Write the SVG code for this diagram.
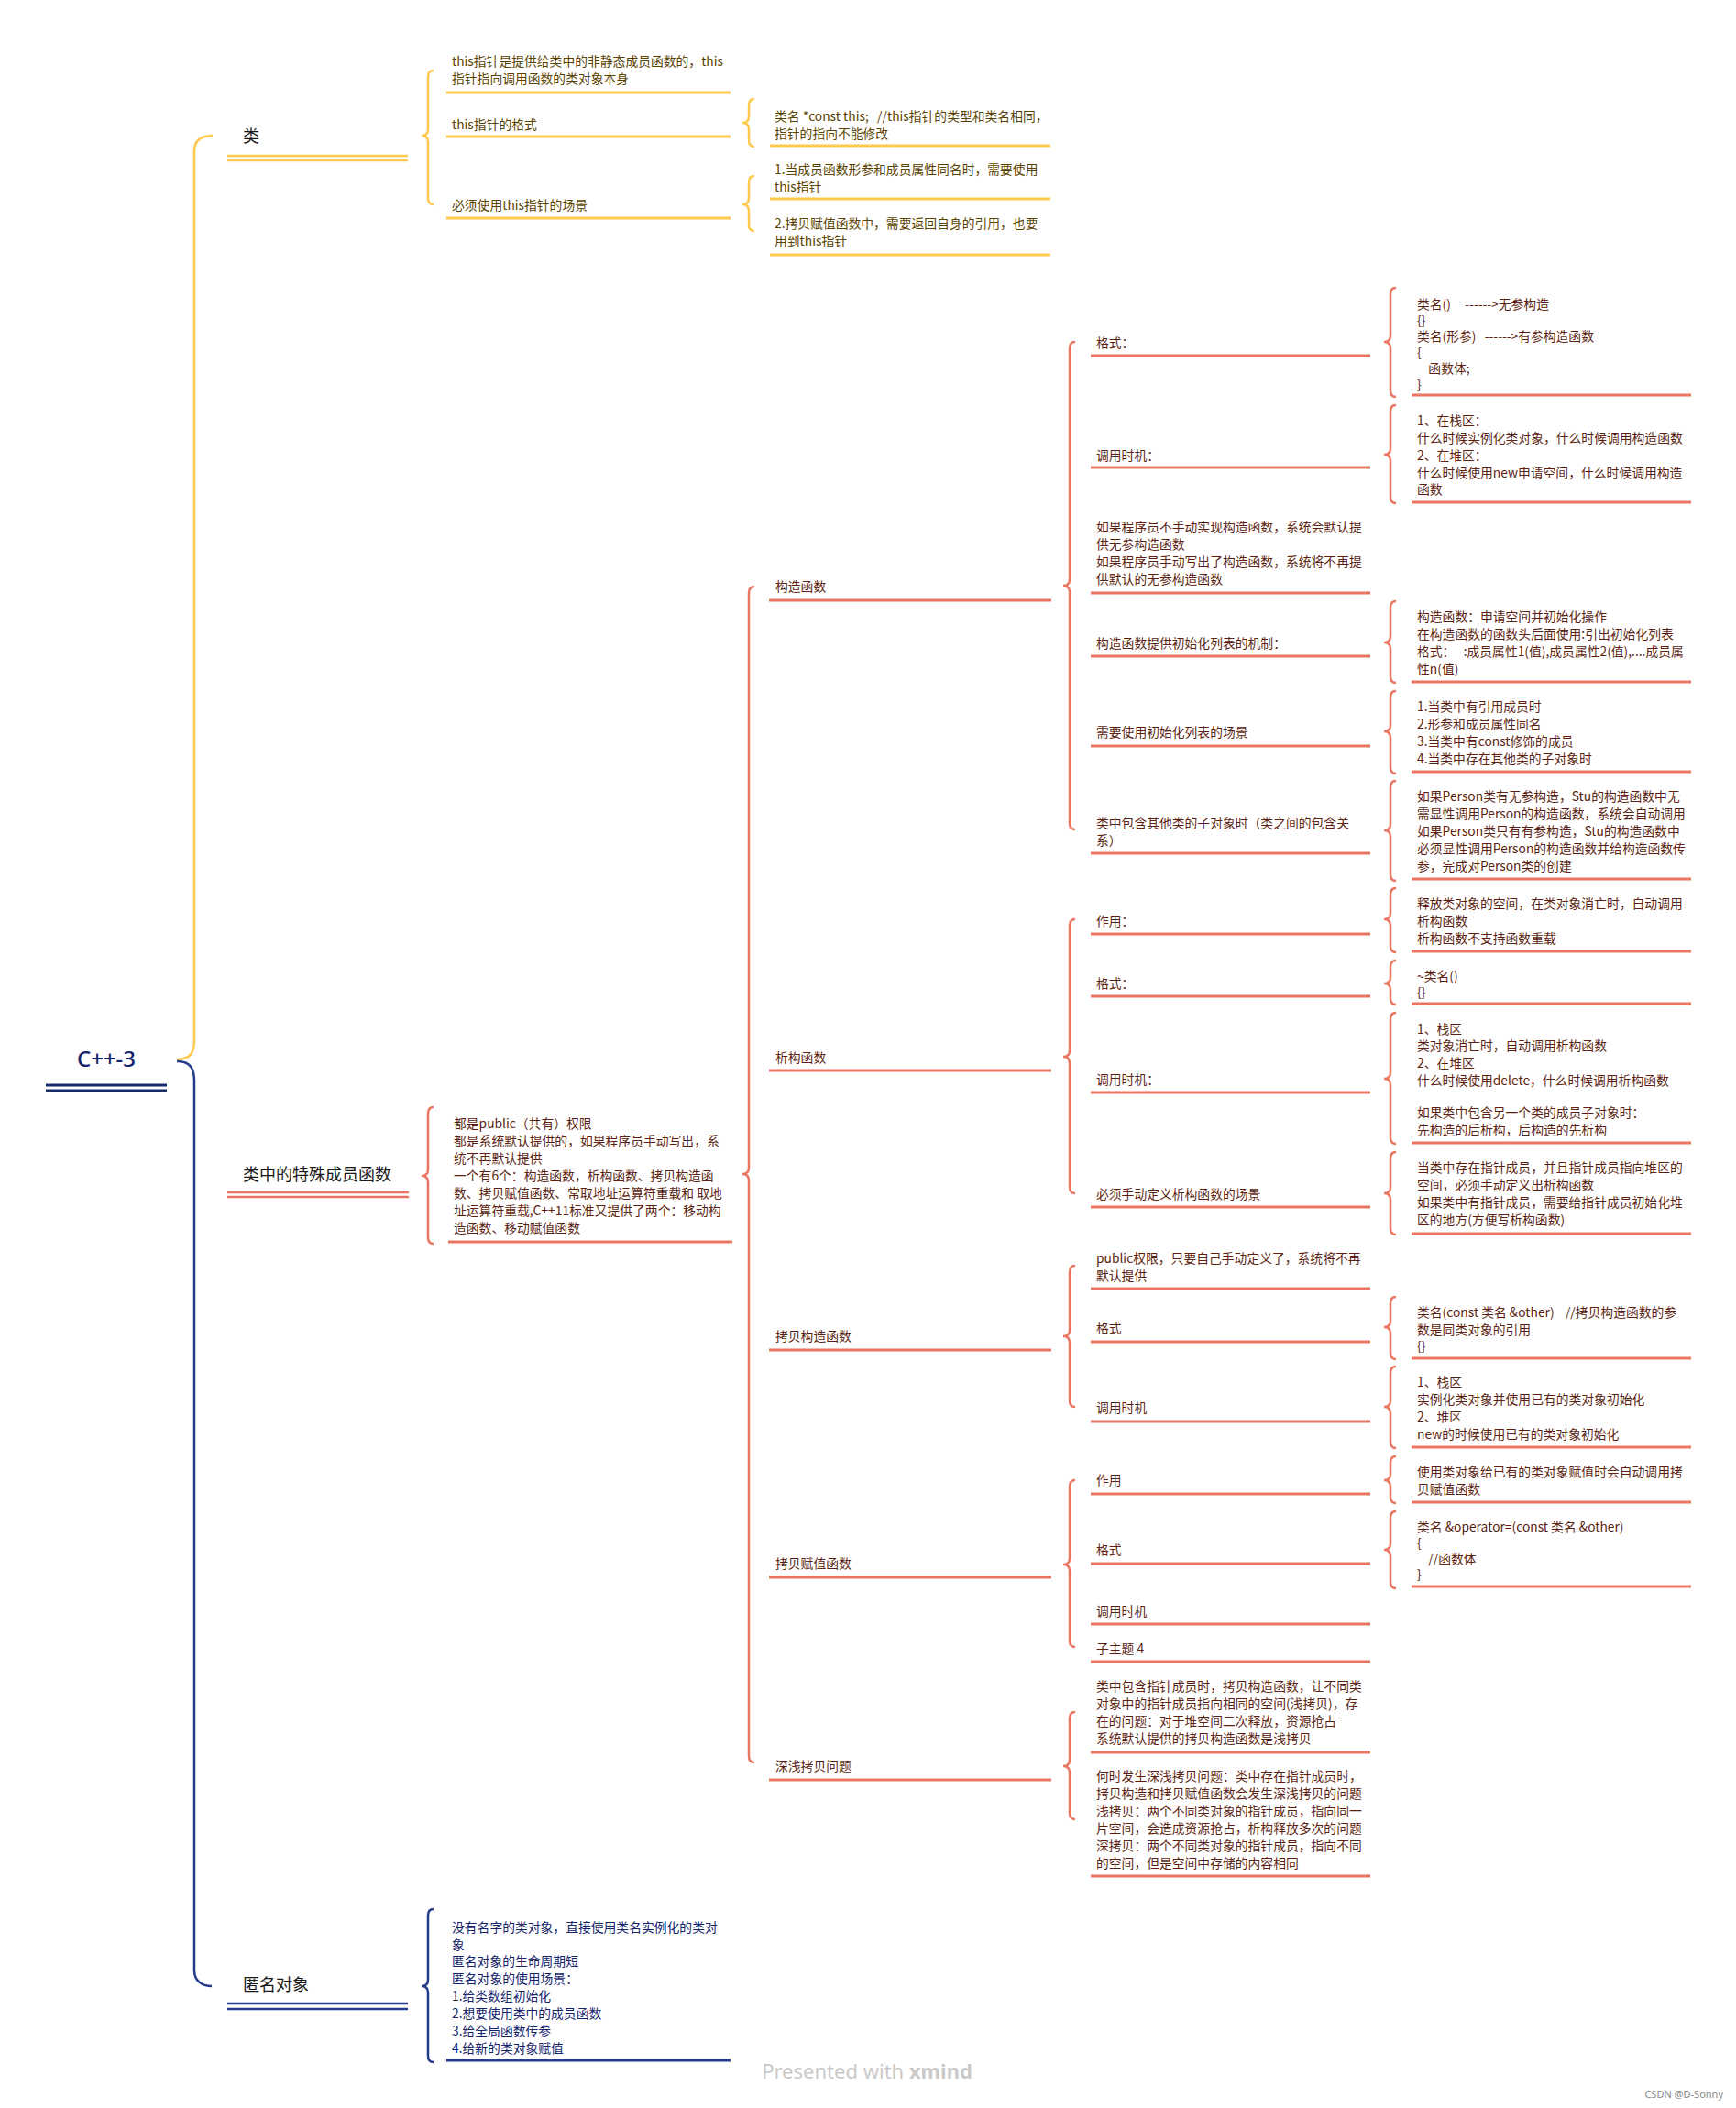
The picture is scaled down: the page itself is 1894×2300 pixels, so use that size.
<svg xmlns="http://www.w3.org/2000/svg" width="1894" height="2300" viewBox="0 0 1894 2300">
<style>
text{font-family:"Noto Sans CJK SC","Noto Sans",sans-serif;dominant-baseline:central}
.t{font-size:13.8px}
.ty{fill:#5a4300}
.tr{fill:#5c1f12}
.tb{fill:#14246b}
.l1{font-size:18px;fill:#1a1a1a}
.root{font-family:"Noto Sans",sans-serif;font-size:24px;fill:#14246b;font-weight:500}
.y{stroke:#ffc94d;fill:none;stroke-width:2.5}
.r{stroke:#ea7560;fill:none;stroke-width:2.5}
.b{stroke:#253b8c;fill:none;stroke-width:2.5}
.ul{stroke-width:3}
</style>
<rect width="1894" height="2300" fill="#ffffff"/>

<g id="connectors">
  <path class="y" d="M193,1156 C208,1156 212,1148 212,1135 V165 C212,153 220,148 232,148"/>
  <path class="b" d="M193,1158 C208,1158 212,1166 212,1180 V2150 C212,2161 220,2167 231,2167"/>
  <path class="y" d="M473,77 Q467,77 467,84 V141 Q467,148 460,148 Q467,148 467,155 V216 Q467,223 473,223"/>
  <path class="y" d="M823,108 Q817,108 817,115 V127 Q817,134 810,134 Q817,134 817,141 V153 Q817,160 823,160"/>
  <path class="y" d="M823,192 Q817,192 817,199 V216 Q817,223 810,223 Q817,223 817,230 V245 Q817,252 823,252"/>
  <path class="r" d="M473,1208 Q467,1208 467,1215 V1276 Q467,1283 460,1283 Q467,1283 467,1290 V1350 Q467,1357 473,1357"/>
  <path class="r" d="M823,640 Q817,640 817,647 V1274 Q817,1281 810,1281 Q817,1281 817,1288 V1916 Q817,1923 823,1923"/>
  <path class="r" d="M1173,373 Q1167,373 1167,380 V632 Q1167,639 1160,639 Q1167,639 1167,646 V898 Q1167,905 1173,905"/>
  <path class="r" d="M1523,314 Q1517,314 1517,321 V366 Q1517,373 1510,373 Q1517,373 1517,380 V426 Q1517,433 1523,433"/>
  <path class="r" d="M1523,442 Q1517,442 1517,449 V489 Q1517,496 1510,496 Q1517,496 1517,503 V542 Q1517,549 1523,549"/>
  <path class="r" d="M1523,656 Q1517,656 1517,663 V694 Q1517,701 1510,701 Q1517,701 1517,708 V738 Q1517,745 1523,745"/>
  <path class="r" d="M1523,754 Q1517,754 1517,761 V791 Q1517,798 1510,798 Q1517,798 1517,805 V837 Q1517,844 1523,844"/>
  <path class="r" d="M1523,852 Q1517,852 1517,859 V899 Q1517,906 1510,906 Q1517,906 1517,913 V954 Q1517,961 1523,961"/>
  <path class="r" d="M1173,1003 Q1167,1003 1167,1010 V1146 Q1167,1153 1160,1153 Q1167,1153 1167,1160 V1295 Q1167,1302 1173,1302"/>
  <path class="r" d="M1523,969 Q1517,969 1517,976 V996 Q1517,1003 1510,1003 Q1517,1003 1517,1010 V1032 Q1517,1039 1523,1039"/>
  <path class="r" d="M1523,1048 Q1517,1048 1517,1055 V1066 Q1517,1073 1510,1073 Q1517,1073 1517,1080 V1089 Q1517,1096 1523,1096"/>
  <path class="r" d="M1523,1105 Q1517,1105 1517,1112 V1170 Q1517,1177 1510,1177 Q1517,1177 1517,1184 V1241 Q1517,1248 1523,1248"/>
  <path class="r" d="M1523,1257 Q1517,1257 1517,1264 V1295 Q1517,1302 1510,1302 Q1517,1302 1517,1309 V1340 Q1517,1347 1523,1347"/>
  <path class="r" d="M1173,1381 Q1167,1381 1167,1388 V1451 Q1167,1458 1160,1458 Q1167,1458 1167,1465 V1528 Q1167,1535 1173,1535"/>
  <path class="r" d="M1523,1415 Q1517,1415 1517,1422 V1441 Q1517,1448 1510,1448 Q1517,1448 1517,1455 V1476 Q1517,1483 1523,1483"/>
  <path class="r" d="M1523,1491 Q1517,1491 1517,1498 V1528 Q1517,1535 1510,1535 Q1517,1535 1517,1542 V1573 Q1517,1580 1523,1580"/>
  <path class="r" d="M1173,1615 Q1167,1615 1167,1622 V1700 Q1167,1707 1160,1707 Q1167,1707 1167,1714 V1790 Q1167,1797 1173,1797"/>
  <path class="r" d="M1523,1589 Q1517,1589 1517,1596 V1608 Q1517,1615 1510,1615 Q1517,1615 1517,1622 V1633 Q1517,1640 1523,1640"/>
  <path class="r" d="M1523,1649 Q1517,1649 1517,1656 V1684 Q1517,1691 1510,1691 Q1517,1691 1517,1698 V1726 Q1517,1733 1523,1733"/>
  <path class="r" d="M1173,1868 Q1167,1868 1167,1875 V1920 Q1167,1927 1160,1927 Q1167,1927 1167,1934 V1978 Q1167,1985 1173,1985"/>
  <path class="b" d="M473,2083 Q467,2083 467,2090 V2160 Q467,2167 460,2167 Q467,2167 467,2174 V2243 Q467,2250 473,2250"/>
</g>

<g id="root">
  <text class="root" x="116" y="1154" text-anchor="middle">C++-3</text>
  <path d="M50,1184 H182 M50,1190 H182" stroke="#1b2a6e" stroke-width="3" fill="none"/>
</g>

<!-- 类 subtree -->
<g id="n-lei">
  <text class="l1" x="265" y="147">类</text>
  <path class="y" d="M248,170 H445 M248,175 H445"/>
</g>
<g id="n-this-def">
  <text class="t ty" x="493"><tspan x="493" y="66">this指针是提供给类中的非静态成员函数的，this</tspan><tspan x="493" y="85">指针指向调用函数的类对象本身</tspan></text>
  <path class="y ul" d="M487,101 H797"/>
</g>
<g id="n-this-fmt">
  <text class="t ty" x="493" y="135">this指针的格式</text>
  <path class="y ul" d="M487,149 H797"/>
</g>
<g id="n-this-scene">
  <text class="t ty" x="493" y="223">必须使用this指针的场景</text>
  <path class="y ul" d="M487,238 H797"/>
</g>
<g id="n-this-fmt-1">
  <text class="t ty" xml:space="preserve"><tspan x="845" y="126">类名 *const this;   //this指针的类型和类名相同，</tspan><tspan x="845" y="145">指针的指向不能修改</tspan></text>
  <path class="y ul" d="M840,159 H1146"/>
</g>
<g id="n-this-scene-1">
  <text class="t ty"><tspan x="845" y="184">1.当成员函数形参和成员属性同名时，需要使用</tspan><tspan x="845" y="203">this指针</tspan></text>
  <path class="y ul" d="M840,217 H1146"/>
</g>
<g id="n-this-scene-2">
  <text class="t ty"><tspan x="845" y="243">2.拷贝赋值函数中，需要返回自身的引用，也要</tspan><tspan x="845" y="262">用到this指针</tspan></text>
  <path class="y ul" d="M840,278 H1146"/>
</g>

<!-- 类中的特殊成员函数 subtree -->
<g id="n-special">
  <text class="l1" x="265" y="1280">类中的特殊成员函数</text>
  <path class="r" d="M248,1301 H446 M248,1306 H446" stroke="#f08a76"/>
</g>
<g id="n-special-note">
  <text class="t tr"><tspan x="495" y="1225">都是public（共有）权限</tspan><tspan x="495" y="1244">都是系统默认提供的，如果程序员手动写出，系</tspan><tspan x="495" y="1263">统不再默认提供</tspan><tspan x="495" y="1282">一个有6个：构造函数，析构函数、拷贝构造函</tspan><tspan x="495" y="1301">数、拷贝赋值函数、常取地址运算符重载和 取地</tspan><tspan x="495" y="1320">址运算符重载,C++11标准又提供了两个：移动构</tspan><tspan x="495" y="1339">造函数、移动赋值函数</tspan></text>
  <path class="r ul" d="M489,1355 H799"/>
</g>

<g id="n-ctor">
  <text class="t tr" x="846" y="639">构造函数</text>
  <path class="r ul" d="M839,655 H1147"/>
</g>
<g id="n-ctor-fmt">
  <text class="t tr" x="1196" y="373">格式：</text>
  <path class="r ul" d="M1190,388 H1495"/>
</g>
<g id="n-ctor-fmt-1">
  <text class="t tr" xml:space="preserve"><tspan x="1546" y="331">类名()     ------&gt;无参构造</tspan><tspan x="1546" y="348.5">{}</tspan><tspan x="1546" y="366">类名(形参)   ------&gt;有参构造函数</tspan><tspan x="1546" y="383.5">{</tspan><tspan x="1546" y="401">    函数体;</tspan><tspan x="1546" y="418.5">}</tspan></text>
  <path class="r ul" d="M1540,431 H1845"/>
</g>
<g id="n-ctor-when">
  <text class="t tr" x="1196" y="496">调用时机：</text>
  <path class="r ul" d="M1190,510 H1495"/>
</g>
<g id="n-ctor-when-1">
  <text class="t tr"><tspan x="1546" y="458">1、在栈区：</tspan><tspan x="1546" y="477">什么时候实例化类对象，什么时候调用构造函数</tspan><tspan x="1546" y="496">2、在堆区：</tspan><tspan x="1546" y="515">什么时候使用new申请空间，什么时候调用构造</tspan><tspan x="1546" y="533">函数</tspan></text>
  <path class="r ul" d="M1540,548 H1845"/>
</g>
<g id="n-ctor-default">
  <text class="t tr"><tspan x="1196" y="574">如果程序员不手动实现构造函数，系统会默认提</tspan><tspan x="1196" y="593">供无参构造函数</tspan><tspan x="1196" y="612">如果程序员手动写出了构造函数，系统将不再提</tspan><tspan x="1196" y="631">供默认的无参构造函数</tspan></text>
  <path class="r ul" d="M1190,647 H1495"/>
</g>
<g id="n-ctor-init">
  <text class="t tr" x="1196" y="701">构造函数提供初始化列表的机制：</text>
  <path class="r ul" d="M1190,716 H1495"/>
</g>
<g id="n-ctor-init-1">
  <text class="t tr" xml:space="preserve"><tspan x="1546" y="672">构造函数：申请空间并初始化操作</tspan><tspan x="1546" y="691">在构造函数的函数头后面使用:引出初始化列表</tspan><tspan x="1546" y="710">格式：   :成员属性1(值),成员属性2(值),....成员属</tspan><tspan x="1546" y="729">性n(值)</tspan></text>
  <path class="r ul" d="M1540,744 H1845"/>
</g>
<g id="n-ctor-scene">
  <text class="t tr" x="1196" y="798">需要使用初始化列表的场景</text>
  <path class="r ul" d="M1190,814 H1495"/>
</g>
<g id="n-ctor-scene-1">
  <text class="t tr"><tspan x="1546" y="770">1.当类中有引用成员时</tspan><tspan x="1546" y="789">2.形参和成员属性同名</tspan><tspan x="1546" y="808">3.当类中有const修饰的成员</tspan><tspan x="1546" y="827">4.当类中存在其他类的子对象时</tspan></text>
  <path class="r ul" d="M1540,842 H1845"/>
</g>
<g id="n-ctor-sub">
  <text class="t tr"><tspan x="1196" y="897">类中包含其他类的子对象时（类之间的包含关</tspan><tspan x="1196" y="916">系）</tspan></text>
  <path class="r ul" d="M1190,931 H1495"/>
</g>
<g id="n-ctor-sub-1">
  <text class="t tr"><tspan x="1546" y="868">如果Person类有无参构造，Stu的构造函数中无</tspan><tspan x="1546" y="887">需显性调用Person的构造函数，系统会自动调用</tspan><tspan x="1546" y="906">如果Person类只有有参构造，Stu的构造函数中</tspan><tspan x="1546" y="925">必须显性调用Person的构造函数并给构造函数传</tspan><tspan x="1546" y="944">参，完成对Person类的创建</tspan></text>
  <path class="r ul" d="M1540,959 H1845"/>
</g>

<g id="n-dtor">
  <text class="t tr" x="846" y="1153">析构函数</text>
  <path class="r ul" d="M839,1168 H1147"/>
</g>
<g id="n-dtor-use">
  <text class="t tr" x="1196" y="1004">作用：</text>
  <path class="r ul" d="M1190,1019 H1495"/>
</g>
<g id="n-dtor-use-1">
  <text class="t tr"><tspan x="1546" y="985">释放类对象的空间，在类对象消亡时，自动调用</tspan><tspan x="1546" y="1004">析构函数</tspan><tspan x="1546" y="1023">析构函数不支持函数重载</tspan></text>
  <path class="r ul" d="M1540,1038 H1845"/>
</g>
<g id="n-dtor-fmt">
  <text class="t tr" x="1196" y="1072">格式：</text>
  <path class="r ul" d="M1190,1087 H1495"/>
</g>
<g id="n-dtor-fmt-1">
  <text class="t tr"><tspan x="1546" y="1064">~类名()</tspan><tspan x="1546" y="1082">{}</tspan></text>
  <path class="r ul" d="M1540,1095 H1845"/>
</g>
<g id="n-dtor-when">
  <text class="t tr" x="1196" y="1177">调用时机：</text>
  <path class="r ul" d="M1190,1192 H1495"/>
</g>
<g id="n-dtor-when-1">
  <text class="t tr"><tspan x="1546" y="1122">1、栈区</tspan><tspan x="1546" y="1140">类对象消亡时，自动调用析构函数</tspan><tspan x="1546" y="1159">2、在堆区</tspan><tspan x="1546" y="1178">什么时候使用delete，什么时候调用析构函数</tspan><tspan x="1546" y="1213">如果类中包含另一个类的成员子对象时：</tspan><tspan x="1546" y="1232">先构造的后析构，后构造的先析构</tspan></text>
  <path class="r ul" d="M1540,1247 H1845"/>
</g>
<g id="n-dtor-scene">
  <text class="t tr" x="1196" y="1302">必须手动定义析构函数的场景</text>
  <path class="r ul" d="M1190,1317 H1495"/>
</g>
<g id="n-dtor-scene-1">
  <text class="t tr"><tspan x="1546" y="1273">当类中存在指针成员，并且指针成员指向堆区的</tspan><tspan x="1546" y="1292">空间，必须手动定义出析构函数</tspan><tspan x="1546" y="1311">如果类中有指针成员，需要给指针成员初始化堆</tspan><tspan x="1546" y="1330">区的地方(方便写析构函数)</tspan></text>
  <path class="r ul" d="M1540,1346 H1845"/>
</g>

<g id="n-copyctor">
  <text class="t tr" x="846" y="1457">拷贝构造函数</text>
  <path class="r ul" d="M839,1473 H1147"/>
</g>
<g id="n-copyctor-public">
  <text class="t tr"><tspan x="1196" y="1372">public权限，只要自己手动定义了，系统将不再</tspan><tspan x="1196" y="1391">默认提供</tspan></text>
  <path class="r ul" d="M1190,1406 H1495"/>
</g>
<g id="n-copyctor-fmt">
  <text class="t tr" x="1196" y="1448">格式</text>
  <path class="r ul" d="M1190,1464 H1495"/>
</g>
<g id="n-copyctor-fmt-1">
  <text class="t tr" xml:space="preserve"><tspan x="1546" y="1431">类名(const 类名 &amp;other)    //拷贝构造函数的参</tspan><tspan x="1546" y="1450">数是同类对象的引用</tspan><tspan x="1546" y="1468">{}</tspan></text>
  <path class="r ul" d="M1540,1482 H1845"/>
</g>
<g id="n-copyctor-when">
  <text class="t tr" x="1196" y="1535">调用时机</text>
  <path class="r ul" d="M1190,1551 H1495"/>
</g>
<g id="n-copyctor-when-1">
  <text class="t tr"><tspan x="1546" y="1507">1、栈区</tspan><tspan x="1546" y="1526">实例化类对象并使用已有的类对象初始化</tspan><tspan x="1546" y="1545">2、堆区</tspan><tspan x="1546" y="1564">new的时候使用已有的类对象初始化</tspan></text>
  <path class="r ul" d="M1540,1579 H1845"/>
</g>

<g id="n-copyassign">
  <text class="t tr" x="846" y="1705">拷贝赋值函数</text>
  <path class="r ul" d="M839,1721 H1147"/>
</g>
<g id="n-copyassign-use">
  <text class="t tr" x="1196" y="1614">作用</text>
  <path class="r ul" d="M1190,1630 H1495"/>
</g>
<g id="n-copyassign-use-1">
  <text class="t tr"><tspan x="1546" y="1605">使用类对象给已有的类对象赋值时会自动调用拷</tspan><tspan x="1546" y="1624">贝赋值函数</tspan></text>
  <path class="r ul" d="M1540,1639 H1845"/>
</g>
<g id="n-copyassign-fmt">
  <text class="t tr" x="1196" y="1690">格式</text>
  <path class="r ul" d="M1190,1706 H1495"/>
</g>
<g id="n-copyassign-fmt-1">
  <text class="t tr" xml:space="preserve"><tspan x="1546" y="1665">类名 &amp;operator=(const 类名 &amp;other)</tspan><tspan x="1546" y="1683">{</tspan><tspan x="1546" y="1700">    //函数体</tspan><tspan x="1546" y="1717">}</tspan></text>
  <path class="r ul" d="M1540,1731 H1845"/>
</g>
<g id="n-copyassign-when">
  <text class="t tr" x="1196" y="1757">调用时机</text>
  <path class="r ul" d="M1190,1772 H1495"/>
</g>
<g id="n-copyassign-sub4">
  <text class="t tr" x="1196" y="1798">子主题 4</text>
  <path class="r ul" d="M1190,1813 H1495"/>
</g>

<g id="n-deepcopy">
  <text class="t tr" x="846" y="1926">深浅拷贝问题</text>
  <path class="r ul" d="M839,1942 H1147"/>
</g>
<g id="n-deepcopy-1">
  <text class="t tr"><tspan x="1196" y="1839">类中包含指针成员时，拷贝构造函数，让不同类</tspan><tspan x="1196" y="1858">对象中的指针成员指向相同的空间(浅拷贝)，存</tspan><tspan x="1196" y="1877">在的问题：对于堆空间二次释放，资源抢占</tspan><tspan x="1196" y="1896">系统默认提供的拷贝构造函数是浅拷贝</tspan></text>
  <path class="r ul" d="M1190,1912 H1495"/>
</g>
<g id="n-deepcopy-2">
  <text class="t tr"><tspan x="1196" y="1937">何时发生深浅拷贝问题：类中存在指针成员时，</tspan><tspan x="1196" y="1956">拷贝构造和拷贝赋值函数会发生深浅拷贝的问题</tspan><tspan x="1196" y="1975">浅拷贝：两个不同类对象的指针成员，指向同一</tspan><tspan x="1196" y="1994">片空间，会造成资源抢占，析构释放多次的问题</tspan><tspan x="1196" y="2013">深拷贝：两个不同类对象的指针成员，指向不同</tspan><tspan x="1196" y="2032">的空间，但是空间中存储的内容相同</tspan></text>
  <path class="r ul" d="M1190,2047 H1495"/>
</g>

<!-- 匿名对象 subtree -->
<g id="n-anon">
  <text class="l1" x="265" y="2164">匿名对象</text>
  <path class="b" d="M248,2186 H445 M248,2192 H445"/>
</g>
<g id="n-anon-note">
  <text class="t tb"><tspan x="493" y="2102">没有名字的类对象，直接使用类名实例化的类对</tspan><tspan x="493" y="2121">象</tspan><tspan x="493" y="2139">匿名对象的生命周期短</tspan><tspan x="493" y="2158">匿名对象的使用场景：</tspan><tspan x="493" y="2177">1.给类数组初始化</tspan><tspan x="493" y="2196">2.想要使用类中的成员函数</tspan><tspan x="493" y="2215">3.给全局函数传参</tspan><tspan x="493" y="2234">4.给新的类对象赋值</tspan></text>
  <path class="b ul" d="M487,2248 H797"/>
</g>

<g id="footer">
  <text x="946" y="2259" text-anchor="middle" font-size="22" fill="#c9c9c9" style="font-family:'Noto Sans',sans-serif">Presented with <tspan font-weight="bold">xmind</tspan></text>
  <text x="1880" y="2284" text-anchor="end" font-size="11" fill="#888" style="font-family:'Noto Sans',sans-serif">CSDN @D-Sonny</text>
</g>
</svg>
